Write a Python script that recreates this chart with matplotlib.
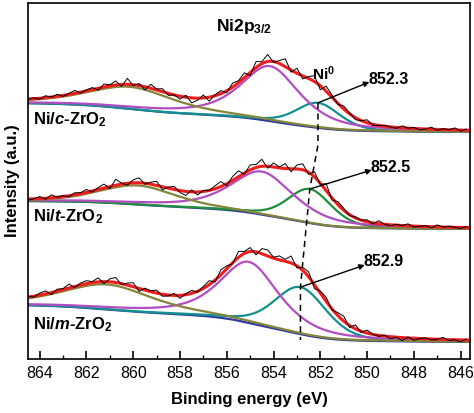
import numpy as np
import matplotlib.pyplot as plt
from matplotlib.ticker import MultipleLocator

plt.rcParams['font.family'] = ['Liberation Sans', 'DejaVu Sans']
plt.rcParams['mathtext.fontset'] = 'custom'
plt.rcParams['mathtext.rm'] = 'Liberation Sans:bold'
plt.rcParams['mathtext.it'] = 'Liberation Sans:italic:bold'
plt.rcParams['mathtext.bf'] = 'Liberation Sans:bold'

# one entry per sample, top to bottom
samples = ['Ni/$\\mathit{c}$-ZrO$_2$', 'Ni/$\\mathit{t}$-ZrO$_2$', 'Ni/$\\mathit{m}$-ZrO$_2$']
ni0_text = ['852.3', '852.5', '852.9']

flat_level = [227, 130, 17]        # baseline at low binding energy
step_main = [17, 22, 28]           # background step under the Ni 2p3/2 peaks
step_sat = [12, 6, 9]              # background step under the satellite

sat_center = [860.1, 859.8, 861.1]
sat_height = [22, 19, 25]
sat_fwhm = [4.4, 3.9, 4.6]
sat_eta = [0.6, 0.35, 0.6]

ni2_center = [854.15, 854.5, 855.05]
ni2_height = [55, 43, 61]
ni2_fwhm = [3.0, 3.2, 3.0]

ni0_center = [852.1, 852.45, 852.85]
ni0_height = [25, 34, 47]
ni0_fwhm = [2.2, 2.2, 2.6]

# raw spectrum minus fit envelope, 0.25 eV steps from 864.5 eV
noise_c = [0, 1, -1, 2, 0, 2, -1, 1, 3, -1, 1, 2, -2, 3, 1, 4, -2, 6, -1,
           2, -3, 4, 1, 3, -2, 0, -3, 2, -5, -2, 3, -4, 1, 3, -2, 4, 2, 5,
           -3, 6, 2, 7, -1, 3, 8, -2, 5, -3, 2, 6, -4, 5, 2, -1, 3, 1, -2,
           0, 3, -1, 0, 1, 0, -1, 2, 0, 1, -1, 0, 2, -1, 1, 0, 2, -1, 1]
noise_t = [-1, 0, 2, -1, 3, 0, 1, -1, 2, 1, 3, -1, 2, 4, -2, 6, 1, -2, 3,
           5, -1, 2, 4, -3, 1, 3, -2, -4, 2, -3, 1, 0, 3, 5, -2, 4, 6, -1,
           5, 3, 7, -2, 4, 1, 5, -3, 4, 6, -2, 5, -1, 7, -2, 3, 2, -1, 1,
           0, 2, -1, 3, 0, -1, 1, 0, 2, -1, 0, 1, -1, 2, 0, 1, 0, -1, 1]
noise_m = [1, -1, 2, 3, -2, 2, 1, 4, -1, 2, 3, 1, 4, -2, 3, 5, -1, 2, 4,
           -3, 2, 1, 3, -2, -1, 2, -3, 1, 3, -1, 2, 4, -2, 5, 3, -1, 6, 2,
           4, -3, 5, 6, 1, 4, 2, 7, -2, 3, 5, -4, 2, 4, -1, 3, 5, -2, 4,
           -1, 3, 0, -1, 1, -2, 0, -3, 1, -2, 0, 1, -1, 0, 2, -1, 0, -2, 1]
noises = [noise_c, noise_t, noise_m]

ni0_colors = ['#14908e', '#1f8f3a', '#14908e']
sat_color = '#84843a'
ni2_color = '#b24cc2'
bg_color = '#2c3a9c'
fit_color = '#f21c1c'


def pvoigt(x, c, h, fwhm, eta):
    u = (x - c) / fwhm
    return h * (eta / (1 + 4 * u ** 2) + (1 - eta) * np.exp(-4 * np.log(2) * u ** 2))


fig = plt.figure(figsize=(4.74, 4.13), dpi=100)
ax = fig.add_axes([28 / 474, 1 - 359 / 413, 442 / 474, 356 / 413])

x = np.linspace(845.0, 865.0, 600)
peak_tops = []
for i in range(3):
    sat = pvoigt(x, sat_center[i], sat_height[i], sat_fwhm[i], sat_eta[i])
    ni2 = pvoigt(x, ni2_center[i], ni2_height[i], ni2_fwhm[i], 0.7)
    ni0 = pvoigt(x, ni0_center[i], ni0_height[i], ni0_fwhm[i], 0.3)
    c_main = np.cumsum(ni2 + ni0)
    c_main /= c_main[-1]
    c_sat = np.cumsum(sat)
    c_sat /= c_sat[-1]
    bg = flat_level[i] + step_main[i] * c_main + step_sat[i] * c_sat
    fit = bg + sat + ni2 + ni0

    ax.plot(x, bg, color=bg_color, lw=1.6)
    ax.plot(x, bg + ni0, color=ni0_colors[i], lw=1.6)
    ax.plot(x, bg + ni2, color=ni2_color, lw=1.6)
    ax.plot(x, bg + sat, color=sat_color, lw=1.6)
    ax.plot(x, fit, color=fit_color, lw=2.2)

    e_raw = 864.5 - 0.25 * np.arange(len(noises[i]))
    raw = np.interp(e_raw, x, fit) + np.array(noises[i])
    ax.plot(e_raw, raw, color='black', lw=0.7)

    top = np.interp(ni0_center[i], x, bg + ni0)
    peak_tops.append(top)

# dashed guide through the Ni0 maxima
ax.plot([ni0_center[0], ni0_center[0], ni0_center[1], ni0_center[2], ni0_center[2]],
        [peak_tops[0], 214, peak_tops[1], peak_tops[2], 19],
        color='black', lw=1.1, ls=(0, (4, 3)))

tips = [(849.9, 277), (849.8, 189), (850.1, 94)]
for i in range(3):
    ax.annotate('', xy=tips[i], xytext=(ni0_center[i], peak_tops[i]),
                arrowprops=dict(arrowstyle='-|>', color='black', lw=1.0,
                                mutation_scale=8, shrinkA=0, shrinkB=0))
    ax.text(tips[i][0] + 0.05, tips[i][1] + 3, ni0_text[i], fontsize=11.5,
            fontweight='bold', ha='left', va='center')

label_y = [239, 142, 34]
for i in range(3):
    ax.text(864.3, label_y[i], samples[i], fontsize=12, fontweight='bold',
            ha='left', va='center')

ax.text(855.25, 333, 'Ni2p$_{3/2}$', fontsize=12.5, fontweight='bold', ha='center', va='center')
ax.text(851.85, 285, 'Ni$^0$', fontsize=11, fontweight='bold', ha='center', va='center')

ax.set_xlim(864.5, 845.6)
ax.set_ylim(0, 356)
ax.xaxis.set_major_locator(MultipleLocator(2))
ax.xaxis.set_minor_locator(MultipleLocator(1))
ax.set_yticks([])
ax.tick_params(axis='x', which='major', direction='in', length=6, width=1.2,
               labelsize=11.5, pad=5)
ax.tick_params(axis='x', which='minor', direction='in', length=3, width=1.0)
for s in ax.spines.values():
    s.set_linewidth(1.2)

ax.set_xlabel('Binding energy (eV)', fontsize=12, fontweight='bold', labelpad=8)
ax.set_ylabel('Intensity (a.u.)', fontsize=12, fontweight='bold', labelpad=6)

fig.savefig('out.png', dpi=100)
